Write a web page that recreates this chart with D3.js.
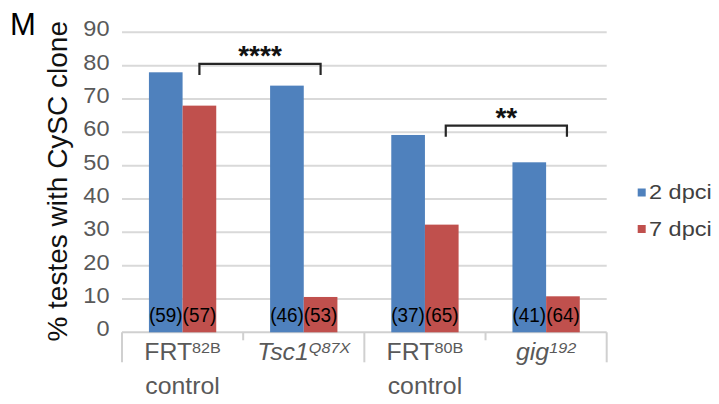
<!DOCTYPE html>
<html>
<head>
<meta charset="utf-8">
<script src="https://cdn.jsdelivr.net/npm/d3@7"></script>
<style>
  html, body { margin: 0; padding: 0; background: #fff; }
  svg { display: block; font-family: "Liberation Sans", Arial, sans-serif; }
</style>
</head>
<body>
<svg id="chart" width="719" height="404"></svg>
<script>
// ---- data ----
const categories = ["FRT82B control", "Tsc1Q87X", "FRT80B control", "gig192"];
const catMain = ["FRT", "Tsc1", "FRT", "gig"];
const catSup = ["82B", "Q87X", "80B", "192"];
const catLine2 = ["control", "", "control", ""];
const catItalic = [false, true, false, true];
const series = ["2 dpci", "7 dpci"];
const values2dpci = [78, 74, 59.2, 51.0];
const values7dpci = [68, 10.6, 32.3, 10.8];
const counts2dpci = ["(59)", "(46)", "(37)", "(41)"];
const counts7dpci = ["(57)", "(53)", "(65)", "(64)"];
const yTicks = [0, 10, 20, 30, 40, 50, 60, 70, 80, 90];
const brackets = [
  { from: 0, to: 1, y: 80.5, label: "****" },
  { from: 2, to: 3, y: 62, label: "**" }
];
const colors = ["#4f81bd", "#c0504d"];

// ---- layout ----
const svg = d3.select("#chart");
const plotLeft = 122, plotRight = 606.7, plotTop = 32.3, plotBottom = 332.3;

const x = d3.scaleBand().domain(categories).range([plotLeft, plotRight]).paddingInner(0).paddingOuter(0);
const xs = d3.scaleBand().domain(series).range([0, x.bandwidth()]).paddingInner(0).paddingOuter(0.8);
const y = d3.scaleLinear().domain([0, 90]).range([plotBottom, plotTop]);

function txt(g, tx, ty, str, o) {
  return g.append("text")
    .attr("transform", `translate(${tx},${ty}) scale(${o.sx || 1},1)`)
    .attr("text-anchor", o.anchor || "start")
    .attr("font-size", o.size)
    .attr("font-weight", o.weight || "normal")
    .attr("font-style", o.style || "normal")
    .attr("fill", o.fill || "#000")
    .text(str);
}

// gridlines
svg.append("g").selectAll("line").data(yTicks.filter(d => d > 0)).join("line")
  .attr("x1", plotLeft).attr("x2", plotRight)
  .attr("y1", d => y(d)).attr("y2", d => y(d))
  .attr("stroke", "#d9d9d9").attr("stroke-width", 2);

// y tick labels
const yl = svg.append("g");
yTicks.forEach(t => txt(yl, 109.5, y(t) + 4, String(t), { size: 22, sx: 1.07, anchor: "end", fill: "#595959" }));

// y title
svg.append("text")
  .attr("transform", `translate(66.5,${(plotTop + plotBottom) / 2 - 1}) rotate(-90)`)
  .attr("text-anchor", "middle").attr("font-size", 28).attr("fill", "#111")
  .text("% testes with CySC clone");

// panel letter
txt(svg, 10, 35, "M", { size: 31, fill: "#000" });

// x axis line and ticks
svg.append("line").attr("x1", plotLeft).attr("x2", plotRight).attr("y1", plotBottom).attr("y2", plotBottom)
  .attr("stroke", "#d0d0d0").attr("stroke-width", 2);
const boundaries = categories.map(c => x(c)).concat([x(categories[categories.length - 1]) + x.bandwidth()]);
svg.append("g").selectAll("line").data(boundaries).join("line")
  .attr("x1", d => d).attr("x2", d => d)
  .attr("y1", plotBottom)
  .attr("y2", (d, i) => (i % 2 === 0 ? plotBottom + 30 : plotBottom + 8))
  .attr("stroke", "#d0d0d0").attr("stroke-width", 2);

// bars
const rows = categories.map((c, i) => ({ cat: c, vals: [values2dpci[i], values7dpci[i]], counts: [counts2dpci[i], counts7dpci[i]] }));
const gBars = svg.append("g");
rows.forEach(r => {
  series.forEach((s, j) => {
    gBars.append("rect")
      .attr("x", x(r.cat) + xs(s))
      .attr("y", y(r.vals[j]))
      .attr("width", xs.bandwidth())
      .attr("height", y(0) - y(r.vals[j]))
      .attr("fill", colors[j]);
  });
});
// count labels
rows.forEach(r => {
  series.forEach((s, j) => {
    txt(gBars, x(r.cat) + xs(s) + xs.bandwidth() / 2, y(0) - 10, r.counts[j], { size: 21, sx: 0.9, anchor: "middle", fill: "#000" });
  });
});

// category labels
categories.forEach((c, i) => {
  const cx = x(c) + x.bandwidth() / 2;
  const t = svg.append("text")
    .attr("transform", `translate(${cx},360) scale(1.08,1)`)
    .attr("text-anchor", "middle").attr("font-size", 23).attr("fill", "#595959")
    .attr("font-style", catItalic[i] ? "italic" : "normal");
  t.append("tspan").text(catMain[i]);
  t.append("tspan").attr("font-size", 15).attr("dy", -7).text(catSup[i]);
  if (catLine2[i]) {
    txt(svg, cx, 393.5, catLine2[i], { size: 23, sx: 1.08, anchor: "middle", fill: "#595959" });
  }
});

// significance brackets
const gBr = svg.append("g");
brackets.forEach((b, k) => {
  const shift = k === 1 ? 4 : 0;
  const x1 = x(categories[b.from]) + xs(series[1]) + xs.bandwidth() / 2 + shift;
  const x2 = x(categories[b.to]) + xs(series[1]) + xs.bandwidth() / 2 + shift;
  const yy = y(b.y);
  gBr.append("path")
    .attr("d", `M${x1},${yy + 11}V${yy}H${x2}V${yy + 11}`)
    .attr("fill", "none").attr("stroke", "#262626").attr("stroke-width", 2.2);
  txt(gBr, (x1 + x2) / 2, yy + 1, b.label, { size: 28, weight: "bold", anchor: "middle", fill: "#111" });
});

// legend
const gL = svg.append("g");
series.forEach((s, j) => {
  const cy = 192.5 + j * 36.5;
  gL.append("rect").attr("x", 637.7).attr("y", cy - 4).attr("width", 8).attr("height", 8).attr("fill", colors[j]);
  txt(gL, 649, cy + 6.5, s, { size: 21, sx: 1.12, fill: "#404040" });
});
</script>
</body>
</html>
